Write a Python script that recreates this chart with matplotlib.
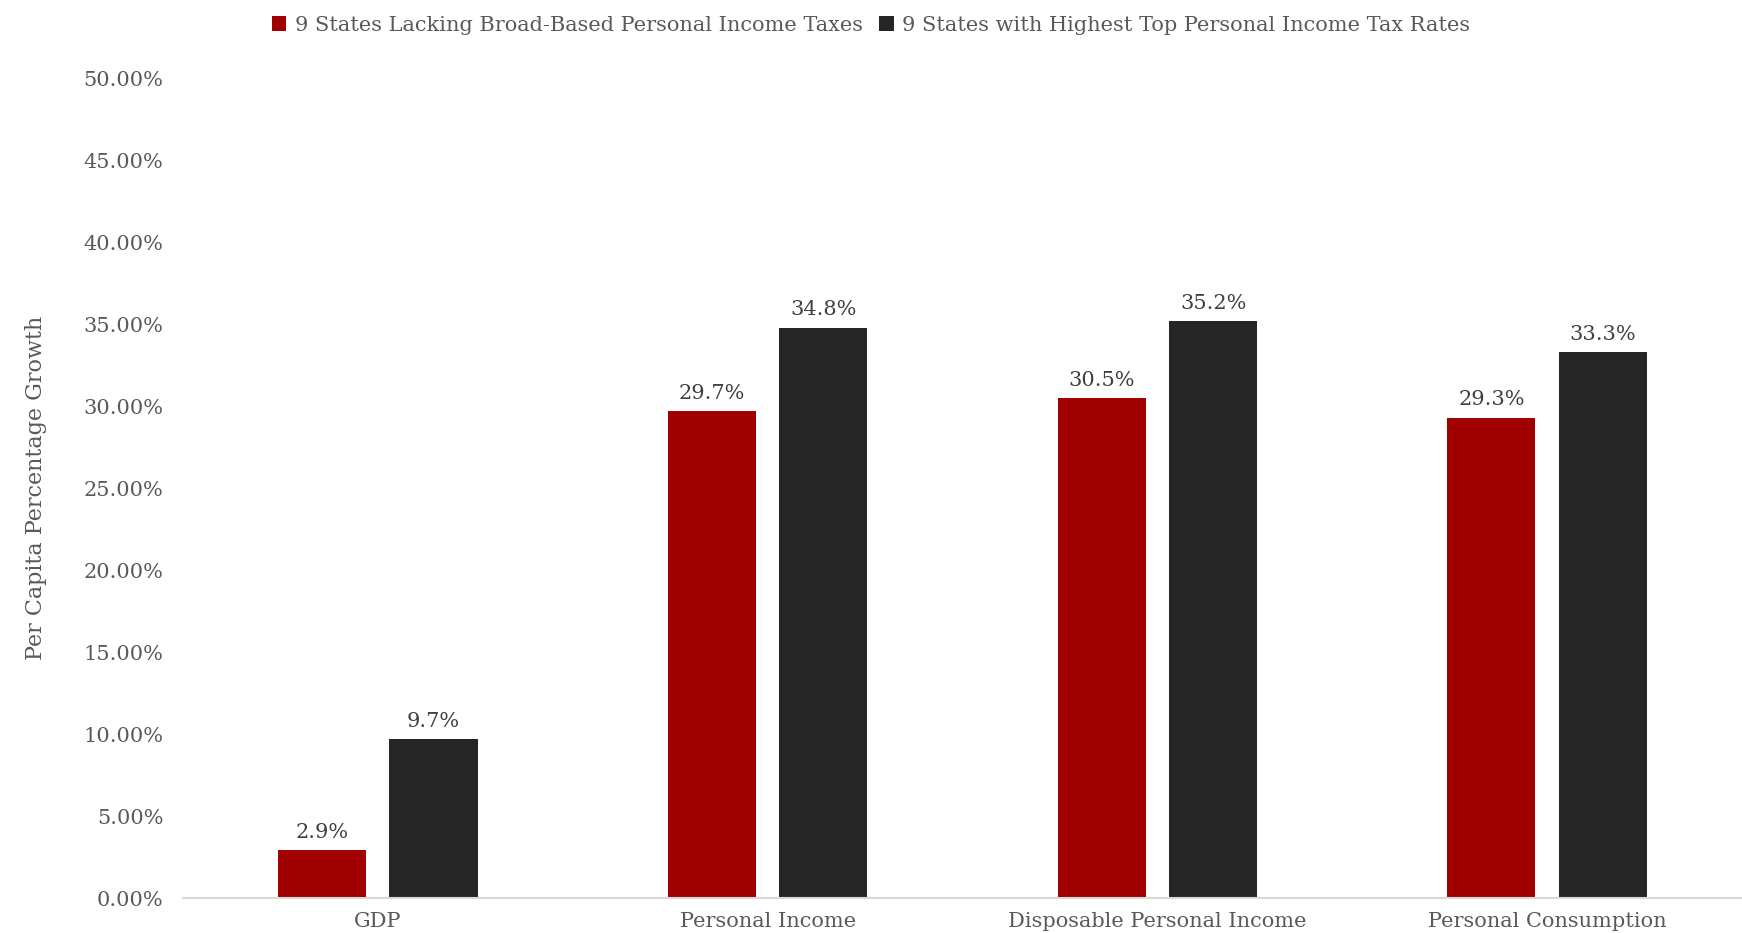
import numpy as np
import matplotlib.pyplot as plt
from matplotlib.ticker import FuncFormatter

categories = ['GDP', 'Personal Income', 'Disposable Personal Income', 'Personal Consumption']
no_tax = [2.9, 29.7, 30.5, 29.3]
high_tax = [9.7, 34.8, 35.2, 33.3]
labels = ['9 States Lacking Broad-Based Personal Income Taxes',
          '9 States with Highest Top Personal Income Tax Rates']
yticks = [0, 5, 10, 15, 20, 25, 30, 35, 40, 45, 50]

plt.rcParams['font.family'] = ['DejaVu Serif']

fig = plt.figure(figsize=(17.42, 9.33), dpi=100)
ax = fig.add_axes([0.105, 0.0375, 0.895, 0.8785])

x = np.arange(len(categories))
w = 0.226
gap = 0.06
b1 = ax.bar(x - (w + gap) / 2, no_tax, w, color='#a00000', label=labels[0])
b2 = ax.bar(x + (w + gap) / 2, high_tax, w, color='#262626', label=labels[1])

for bars, vals in [(b1, no_tax), (b2, high_tax)]:
    for r, v in zip(bars, vals):
        ax.annotate('%.1f%%' % v, (r.get_x() + r.get_width() / 2, v),
                    xytext=(0, 6), textcoords='offset points',
                    ha='center', va='bottom', fontsize=15, color='#404040')

ax.set_xlim(-0.5, len(categories) - 0.5)
ax.set_ylim(0, 50)
ax.set_yticks(yticks)
ax.yaxis.set_major_formatter(FuncFormatter(lambda v, p: '%.2f%%' % v))
ax.set_xticks(x)
ax.set_xticklabels(categories)
ax.tick_params(axis='both', length=0, labelsize=15, colors='#595959', pad=10)
ax.tick_params(axis='y', pad=14)

for s in ['top', 'right', 'left']:
    ax.spines[s].set_visible(False)
ax.spines['bottom'].set_color('#d9d9d9')
ax.spines['bottom'].set_linewidth(1.5)

ax.set_ylabel('Per Capita Percentage Growth', fontsize=16, color='#595959', labelpad=26)

fig.legend(loc='upper center', bbox_to_anchor=(0.5, 1.003), ncol=2, frameon=False,
           fontsize=15, handlelength=0.7, handleheight=0.7, handletextpad=0.4,
           columnspacing=0.8, labelcolor='#595959')

fig.savefig('out.png', dpi=100)
